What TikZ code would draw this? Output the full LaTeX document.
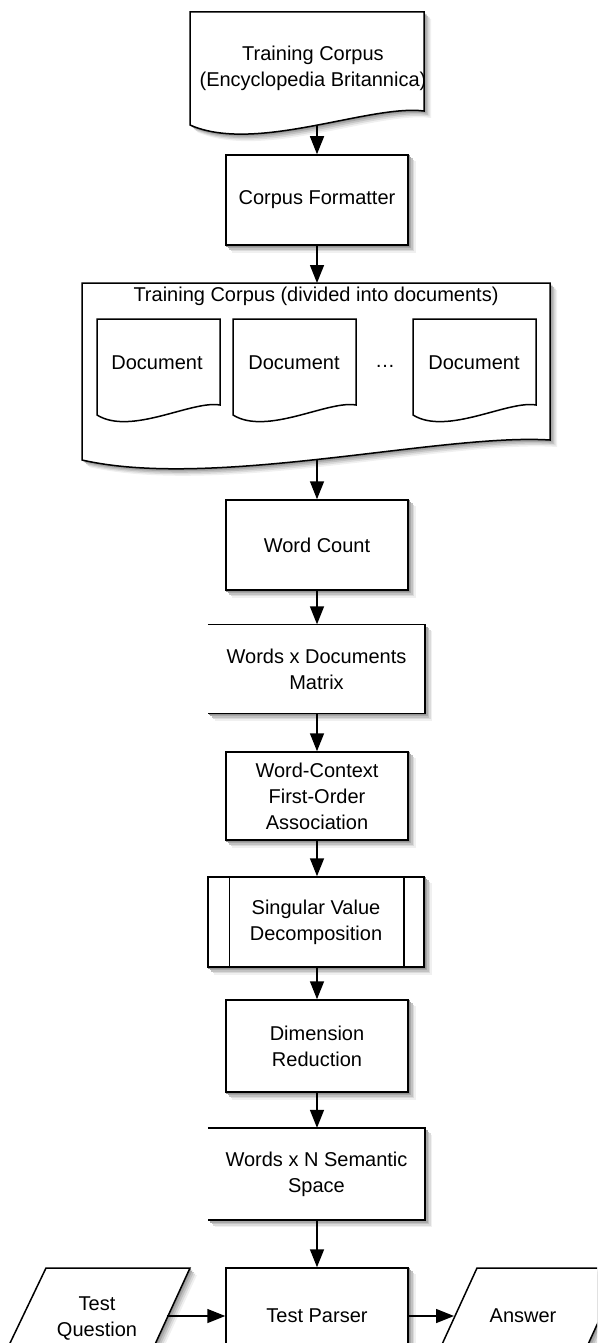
\documentclass[tikz,border=0pt]{standalone}
\usepackage{fontspec}
\setmainfont{Liberation Sans}
\usetikzlibrary{arrows.meta,calc}
\pgfdeclarelayer{bg}
\pgfsetlayers{bg,main}
\newcommand\shadowlayers[1]{%
  \fill[black!6, shift={(7pt,-7pt)}] #1;
  \fill[black!14, shift={(5.5pt,-5.5pt)}] #1;
  \fill[black!24, shift={(4pt,-4pt)}] #1;
  \fill[black!34, shift={(2.5pt,-2.5pt)}] #1;
  \fill[black!42, shift={(1.2pt,-1.2pt)}] #1;}
\newcommand\nodeshadowstep[3]{%
  \fill[#3] ([shift={(#2,-#2)}]#1.south west) rectangle ([shift={(#2,-#2)}]#1.north east);}
\newcommand\nodeshadow[1]{%
  \begin{pgfonlayer}{bg}
  \nodeshadowstep{#1}{7pt}{black!6}
  \nodeshadowstep{#1}{5.5pt}{black!14}
  \nodeshadowstep{#1}{4pt}{black!24}
  \nodeshadowstep{#1}{2.5pt}{black!34}
  \nodeshadowstep{#1}{1.2pt}{black!42}
  \end{pgfonlayer}}
\begin{document}
\begin{tikzpicture}[x=1pt,y=-1pt,
  txt/.style={font=\fontsize{20}{26}\selectfont, align=center, inner sep=0pt},
  outl/.style={draw, line width=1.5pt, fill=white},
  box/.style={outl, txt, minimum width=182pt, minimum height=90pt},
  storebox/.style={fill=white, txt, minimum width=217pt, minimum height=89pt},
  arr/.style={line width=1.5pt, -{Triangle[length=18pt,width=14pt]}}
]
\useasboundingbox (0,0) rectangle (597,1343);
\clip (0,0) rectangle (597,1343);

% Training corpus document
\def\corpuspath{(190,12) -- (424,12) -- (424,111) .. controls (370,104) and (255,154) .. (190,125) -- cycle}
\shadowlayers{\corpuspath}
\draw[outl] \corpuspath;
\node[txt] (corpus) at (313,68) {Training Corpus\\(Encyclopedia Britannica)};
\coordinate (corpusbot) at (317,126);

% Corpus formatter
\node[box] (fmt) at (317,200) {Corpus Formatter};
\nodeshadow{fmt}

% Divided corpus
\def\bigpath{(82,283) -- (550,283) -- (550,440) .. controls (442,433) and (213,490) .. (82,460) -- cycle}
\shadowlayers{\bigpath}
\draw[outl] \bigpath;
\node[txt] (divided) at (316,296) {Training Corpus (divided into documents)};
\coordinate (dividedtop) at (317,283);
\coordinate (dividedbot) at (317,459);

\draw[outl] (97,319) -- (220,319) -- (220,405) .. controls (192,400) and (131,436) .. (97,415) -- cycle;
\draw[outl] (233,319) -- (356,319) -- (356,405) .. controls (328,400) and (267,436) .. (233,415) -- cycle;
\draw[outl] (413,319) -- (536,319) -- (536,405) .. controls (508,400) and (447,436) .. (413,415) -- cycle;
\node[txt] (docA) at (157,363) {Document};
\node[txt] (docB) at (294,363) {Document};
\node[txt] (dots) at (385,366) {…};
\node[txt] (docC) at (474,363) {Document};

% Word count
\node[box] (wc) at (317,545) {Word Count};
\nodeshadow{wc}

% Words x Documents matrix (stored data)
\node[storebox] (wdm) at (316.5,669) {Words x Documents\\Matrix};
\nodeshadow{wdm}
\draw[line width=1.5pt] (wdm.north west) -- (wdm.north east) -- (wdm.south east) -- (wdm.south west);

% Word-context
\node[box, minimum height=88pt] (wctx) at (317,796) {Word-Context\\First-Order\\Association};
\nodeshadow{wctx}

% SVD (predefined process)
\node[box, minimum width=216pt] (svd) at (316,922) {Singular Value\\Decomposition};
\nodeshadow{svd}
\draw[line width=1.5pt] ([xshift=22pt]svd.north west) -- ([xshift=22pt]svd.south west);
\draw[line width=1.5pt] ([xshift=-21pt]svd.north east) -- ([xshift=-21pt]svd.south east);

% Dimension reduction
\node[box, minimum height=92pt] (dim) at (317,1046) {Dimension\\Reduction};
\nodeshadow{dim}

% Words x N semantic space (stored data)
\node[storebox, minimum height=92pt] (wns) at (316.5,1174) {Words x N Semantic\\Space};
\nodeshadow{wns}
\draw[line width=1.5pt] (wns.north west) -- (wns.north east) -- (wns.south east) -- (wns.south west);

% Test parser
\node[box, minimum height=96pt] (tp) at (317,1316) {Test Parser};
\nodeshadow{tp}

% Test question (parallelogram)
\def\tqpath{(46,1268) -- (190,1268) -- (146,1364) -- (0,1364) -- cycle}
\shadowlayers{\tqpath}
\draw[outl] \tqpath;
\node[txt] (tq) at (97,1318) {Test\\Question};
\coordinate (tqr) at (167,1316);

% Answer (parallelogram)
\def\anspath{(477,1268) -- (623,1268) -- (579,1364) -- (433,1364) -- cycle}
\shadowlayers{\anspath}
\draw[outl] \anspath;
\node[txt] (ans) at (523,1316) {Answer};
\coordinate (ansl) at (454,1316);

% connectors
\draw[arr] (corpusbot) -- (fmt.north);
\draw[arr] (fmt.south) -- (dividedtop);
\draw[arr] (dividedbot) -- (wc.north);
\draw[arr] (wc.south) -- (wc.south |- wdm.north);
\draw[arr] (wc.south |- wdm.south) -- (wctx.north);
\draw[arr] (wctx.south) -- (wctx.south |- svd.north);
\draw[arr] (wctx.south |- svd.south) -- (dim.north);
\draw[arr] (dim.south) -- (dim.south |- wns.north);
\draw[arr] (dim.south |- wns.south) -- (tp.north);
\draw[arr] (tqr) -- (tp.west |- tqr);
\draw[arr] (tp.east |- ansl) -- (ansl);
\end{tikzpicture}
\end{document}
